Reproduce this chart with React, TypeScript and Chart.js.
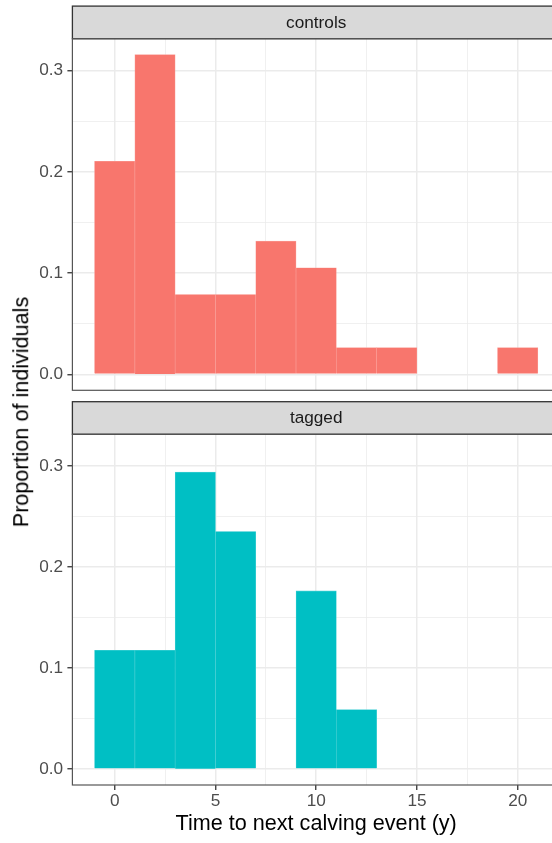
import React, { useEffect, useRef } from "react";
import { Chart, registerables } from "chart.js";

Chart.register(...registerables);

// ---- data ----
const binCenters = [0, 2, 4, 6, 8, 10, 12, 14, 16, 18, 20];
const controlsProp = [0.2105, 0.3158, 0.0789, 0.0789, 0.1316, 0.1053, 0.0263, 0.0263, 0, 0, 0.0263];
const taggedProp = [0.1176, 0.1176, 0.2941, 0.2353, 0, 0.1765, 0.0588, 0, 0, 0, 0];
const xTickValues = [0, 2.5, 5, 7.5, 10, 12.5, 15, 17.5, 20];
const yTickValues = [0, 0.05, 0.1, 0.15, 0.2, 0.25, 0.3];
const panelLabels = ["controls", "tagged"];
const xTitle = "Time to next calving event (y)";
const yTitle = "Proportion of individuals";

const FONT = "'Liberation Sans', Arial, Helvetica, sans-serif";
const STRIP_H = 32.6;
const TICK_SIZE = 17.2;
const TITLE_SIZE = 21.6;

const facetStrip = {
  id: "facetStrip",
  afterDraw(chart: any, _args: any, opts: any) {
    const { ctx, chartArea: a } = chart;
    const w = a.right - a.left;
    const top = a.top - STRIP_H;
    ctx.save();
    ctx.fillStyle = "#D9D9D9";
    ctx.fillRect(a.left, top, w, STRIP_H);
    ctx.strokeStyle = "#333333";
    ctx.lineWidth = 1.3;
    ctx.strokeRect(a.left, top, w, STRIP_H);
    ctx.fillStyle = "#1A1A1A";
    ctx.font = `${TICK_SIZE}px ${FONT}`;
    ctx.textAlign = "center";
    ctx.textBaseline = "middle";
    ctx.fillText(opts.label, (a.left + a.right) / 2, top + STRIP_H / 2 + 0.5);
    // panel border
    ctx.strokeStyle = "#555555";
    ctx.lineWidth = 1.2;
    ctx.strokeRect(a.left, a.top, w, a.bottom - a.top);
    ctx.restore();
  },
};

function zeroPad(s: any) {
  s.paddingLeft = 0;
  s.paddingRight = 0;
  s.paddingTop = 0;
  s.paddingBottom = 0;
}

type PanelProps = {
  label: string;
  values: number[];
  color: string;
  edge: string;
  showX: boolean;
  top: number;
  height: number;
  padTop: number;
  padBottom: number;
  xHeight: number;
};

function Panel(p: PanelProps) {
  const ref = useRef<HTMLCanvasElement>(null);
  useEffect(() => {
    const chart = new Chart(ref.current as HTMLCanvasElement, {
      type: "bar",
      data: {
        datasets: [
          {
            // empty bins are not drawn (no zero-height sliver)
            data: binCenters.map((x, i) => ({ x, y: p.values[i] > 0 ? p.values[i] : null })),
            backgroundColor: p.color,
            borderColor: p.edge,
            borderWidth: 0.6,
            borderSkipped: "start",
            barPercentage: 1,
            categoryPercentage: 1,
          } as any,
        ],
      },
      options: {
        responsive: false,
        animation: false,
        devicePixelRatio: 1,
        layout: { padding: { top: p.padTop, bottom: p.padBottom, left: 0, right: 2 } },
        plugins: {
          legend: { display: false },
          tooltip: { enabled: false },
          facetStrip: { label: p.label },
        } as any,
        scales: {
          x: {
            type: "linear",
            min: -2.1,
            max: 22.1,
            offset: false,
            afterBuildTicks: (s: any) => {
              s.ticks = xTickValues.map((v) => ({ value: v }));
            },
            afterFit: (s: any) => {
              s.height = p.xHeight;
              zeroPad(s);
            },
            border: { display: false },
            grid: {
              offset: false,
              color: "#EBEBEB",
              lineWidth: (c: any) => (c.index % 2 === 0 ? 1.5 : 0.75),
              drawTicks: p.showX,
              tickLength: 5,
              tickColor: (c: any) => (c.index % 2 === 0 ? "#333333" : "rgba(0,0,0,0)"),
              tickWidth: 1.3,
            },
            ticks: {
              display: p.showX,
              autoSkip: false,
              maxRotation: 0,
              padding: 1.4,
              color: "#4D4D4D",
              font: { family: FONT, size: TICK_SIZE },
              callback: (v: any, i: number) => (i % 2 === 0 ? String(v) : ""),
            },
            title: {
              display: p.showX,
              text: xTitle,
              color: "#000000",
              font: { family: FONT, size: TITLE_SIZE },
              padding: { top: 0, bottom: 5.8 },
            },
          },
          y: {
            type: "linear",
            position: "left",
            min: -0.0158,
            max: 0.3316,
            afterBuildTicks: (s: any) => {
              s.ticks = yTickValues.map((v) => ({ value: v }));
            },
            afterFit: (s: any) => {
              s.width = 72.4;
              zeroPad(s);
            },
            border: { display: false },
            grid: {
              color: "#EBEBEB",
              lineWidth: (c: any) => (c.index % 2 === 0 ? 1.5 : 0.75),
              drawTicks: true,
              tickLength: 5,
              tickColor: (c: any) => (c.index % 2 === 0 ? "#333333" : "rgba(0,0,0,0)"),
              tickWidth: 1.3,
            },
            ticks: {
              autoSkip: false,
              padding: 4.3,
              color: "#4D4D4D",
              font: { family: FONT, size: TICK_SIZE },
              callback: (v: any, i: number) => (i % 2 === 0 ? Number(v).toFixed(1) : ""),
            },
          },
        },
      } as any,
      plugins: [facetStrip],
    });
    return () => chart.destroy();
  }, []);
  return (
    <canvas
      ref={ref}
      width={562}
      height={p.height}
      style={{ position: "absolute", left: 0, top: p.top, width: 562, height: p.height }}
    />
  );
}

export default function App() {
  return (
    <div
      style={{
        position: "absolute",
        left: 0,
        top: 0,
        width: 552,
        height: 843,
        overflow: "hidden",
        background: "#FFFFFF",
      }}
    >
      <Panel
        label={panelLabels[0]}
        values={controlsProp}
        color="#F8766D"
        edge="#FA9F99"
        showX={false}
        top={0}
        height={396}
        padTop={38.7}
        padBottom={5.7}
        xHeight={0}
      />
      <Panel
        label={panelLabels[1]}
        values={taggedProp}
        color="#00BFC4"
        edge="#4DD2D6"
        showX={true}
        top={396}
        height={447}
        padTop={38.3}
        padBottom={0}
        xHeight={58}
      />
      <div
        style={{
          position: "absolute",
          left: 21,
          top: 412,
          transform: "translate(-50%, -50%) rotate(-90deg)",
          whiteSpace: "nowrap",
          fontFamily: FONT,
          fontSize: `${TITLE_SIZE}px`,
          color: "#000000",
          lineHeight: 1,
        }}
      >
        {yTitle}
      </div>
    </div>
  );
}
